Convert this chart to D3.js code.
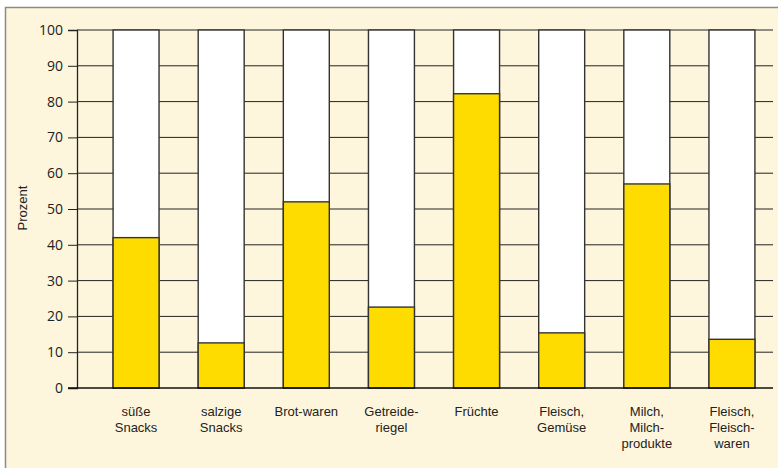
<!DOCTYPE html>
<html>
<head>
<meta charset="utf-8">
<script src="https://d3js.org/d3.v7.min.js"></script>
<style>
  body { margin: 0; background: #fff; }
  text { font-family: "Liberation Sans", Arial, sans-serif; fill: #222; }
</style>
</head>
<body>
<div id="chart"></div>
<script>
// categories (lines split for wrapped labels) and share in percent
var categories = ["süße Snacks", "salzige Snacks", "Brot-waren", "Getreide-riegel", "Früchte",
                  "Fleisch, Gemüse", "Milch, Milch-produkte", "Fleisch, Fleisch-waren"];
var labelLines = [["süße", "Snacks"], ["salzige", "Snacks"], ["Brot-waren"], ["Getreide-", "riegel"],
                  ["Früchte"], ["Fleisch,", "Gemüse"], ["Milch,", "Milch-", "produkte"], ["Fleisch,", "Fleisch-", "waren"]];
var values = [42, 12.6, 52, 22.6, 82.2, 15.4, 57, 13.6];
var yTicks = [0, 10, 20, 30, 40, 50, 60, 70, 80, 90, 100];

var W = 778, H = 468;
var svg = d3.select("#chart").append("svg")
    .attr("width", W).attr("height", H);

// cream panel with grey frame
svg.append("rect")
    .attr("x", 5.5).attr("y", 7.5)
    .attr("width", 800).attr("height", 500)
    .attr("fill", "#fef6dc")
    .attr("stroke", "#8a8a8a")
    .attr("stroke-width", 1.5);

var axisX = 77, gridRight = 773;

var y = d3.scaleLinear().domain([0, 100]).range([388, 30]);
var x = d3.scaleBand().domain(categories).range([93.5, 774.5]).paddingInner(0.46).paddingOuter(0.23);

// horizontal grid lines
svg.append("g")
  .selectAll("line")
  .data(yTicks.filter(function(d) { return d > 0; }))
  .join("line")
    .attr("x1", axisX).attr("x2", gridRight)
    .attr("y1", function(d) { return y(d); })
    .attr("y2", function(d) { return y(d); })
    .attr("stroke", "#222").attr("stroke-width", 1);

// y axis
var yAxis = svg.append("g")
    .attr("transform", "translate(" + axisX + ",0)")
    .call(d3.axisLeft(y).tickValues(yTicks).tickSize(9).tickPadding(5));
yAxis.select(".domain").attr("stroke", "#222").attr("stroke-width", 1.3);
yAxis.selectAll(".tick line").attr("stroke", "#222");
yAxis.selectAll(".tick text")
    .style("font-size", "14px")
    .style("font-family", "'Open Sans', sans-serif")
    .attr("fill", "#222");

// full-height white bars (100 %)
svg.append("g")
  .selectAll("rect")
  .data(categories)
  .join("rect")
    .attr("x", function(d) { return x(d); })
    .attr("y", y(100))
    .attr("width", x.bandwidth())
    .attr("height", y(0) - y(100))
    .attr("fill", "#fff")
    .attr("stroke", "#333").attr("stroke-width", 1.4);

// yellow value bars
svg.append("g")
  .selectAll("rect")
  .data(values)
  .join("rect")
    .attr("x", function(d, i) { return x(categories[i]); })
    .attr("y", function(d) { return y(d); })
    .attr("width", x.bandwidth())
    .attr("height", function(d) { return y(0) - y(d); })
    .attr("fill", "#ffdc00")
    .attr("stroke", "#333").attr("stroke-width", 1.4);

// zero baseline
svg.append("line")
    .attr("x1", axisX - 9).attr("x2", gridRight)
    .attr("y1", y(0)).attr("y2", y(0))
    .attr("stroke", "#111").attr("stroke-width", 1.4);

// category labels, one text per line
var lines = [];
categories.forEach(function(c, i) {
  labelLines[i].forEach(function(s, k) { lines.push({cat: c, text: s, row: k}); });
});
svg.append("g")
  .selectAll("text")
  .data(lines)
  .join("text")
    .attr("text-anchor", "middle")
    .attr("x", function(d) { return x(d.cat) + x.bandwidth() / 2; })
    .attr("y", function(d) { return 416 + d.row * 16; })
    .style("font-size", "13px")
    .text(function(d) { return d.text; });

// y axis title
svg.append("text")
    .attr("transform", "translate(27,208) rotate(-90)")
    .attr("text-anchor", "middle")
    .style("font-size", "13px")
    .text("Prozent");
</script>
</body>
</html>
